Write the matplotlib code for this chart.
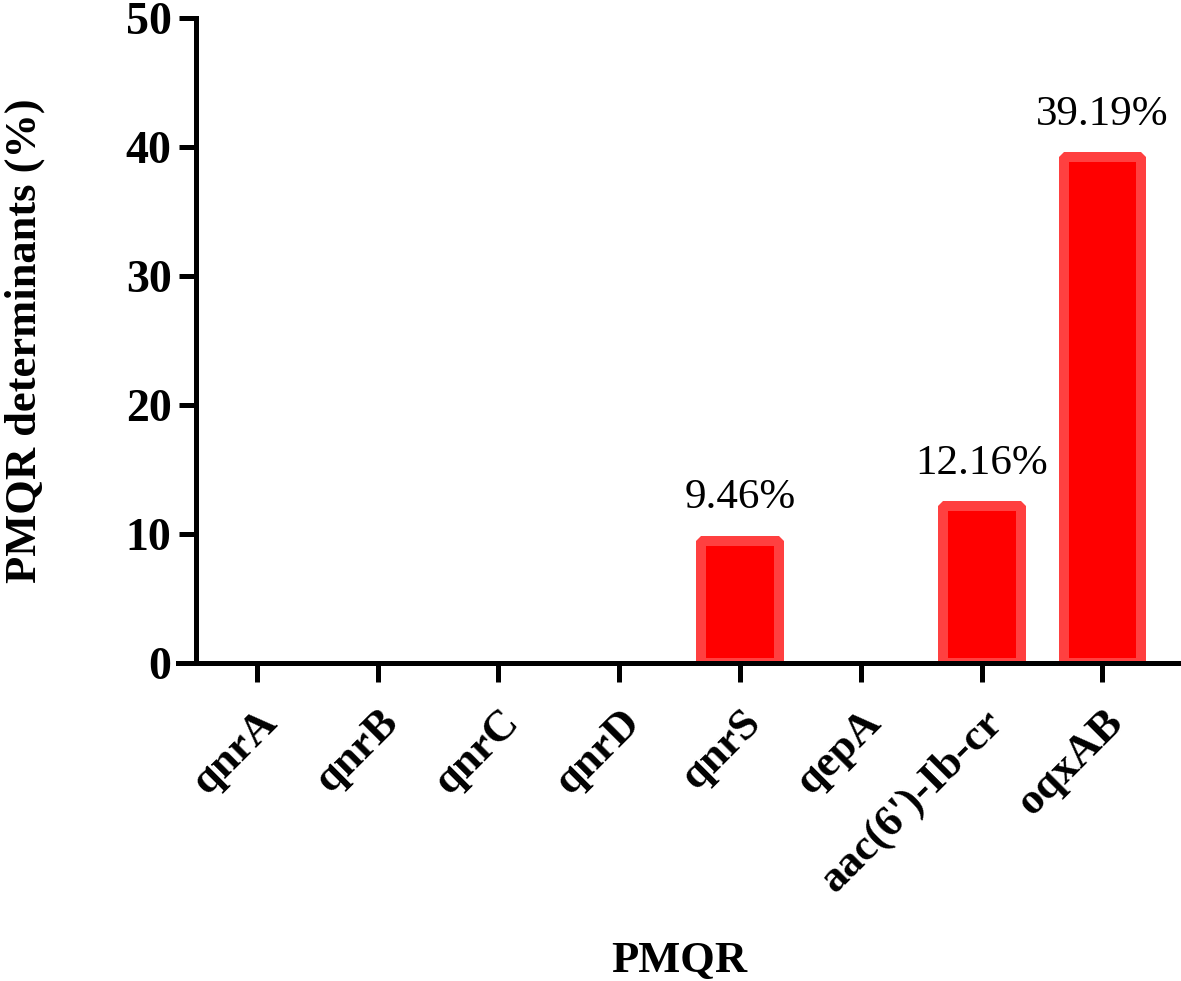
import matplotlib
matplotlib.use("Agg")

import matplotlib.pyplot as plt
import matplotlib.transforms as mtransforms

GENES = ['qnrA', 'qnrB', 'qnrC', 'qnrD', 'qnrS', 'qepA', "aac(6')-Ib-cr", 'oqxAB']
PERCENT = [0, 0, 0, 0, 9.46, 0, 12.16, 39.19]
LABELS = ['', '', '', '', '9.46%', '', '12.16%', '39.19%']
Y_TICKS = [0, 10, 20, 30, 40, 50]

FILL = '#ff0000'
EDGE = '#ff4040'

plt.rcParams['font.family'] = ['Liberation Serif', 'DejaVu Serif']
plt.rcParams['font.weight'] = 'bold'

fig = plt.figure(figsize=(11.81, 9.81), dpi=100)
ax = fig.add_axes([0.151, 0.324, 0.849, 0.658])

x = list(range(len(GENES)))
# empty bars get no outline
widths = [7.2 if v > 0 else 0 for v in PERCENT]
ax.bar(x, PERCENT, width=0.645, color=FILL, edgecolor=EDGE, linewidth=widths,
       joinstyle='bevel', zorder=2)

for xi, val, lab in zip(x, PERCENT, LABELS):
    if lab:
        ax.annotate(lab, (xi, val), xytext=(0, 17), textcoords='offset points',
                    ha='center', va='bottom', fontsize=31, fontweight='normal')

ax.set_xlim(-0.65, 7.65)
ax.set_ylim(0, 50)
ax.set_yticks(Y_TICKS)
ax.set_xticks(x)
ax.set_xticklabels(GENES, rotation=45, ha='right', va='top',
                   rotation_mode='anchor', fontsize=32, fontweight='bold')
shift = mtransforms.ScaledTranslation(-8 / 72, 0, fig.dpi_scale_trans)
for t in ax.get_xticklabels():
    t.set_transform(t.get_transform() + shift)

ax.spines['top'].set_visible(False)
ax.spines['right'].set_visible(False)
ax.spines['left'].set_position(('data', -0.5))
for s in ('left', 'bottom'):
    ax.spines[s].set_linewidth(3.6)
    ax.spines[s].set_zorder(3)
ax.tick_params(axis='y', length=12, width=3.6, pad=6, labelsize=33)
ax.tick_params(axis='x', length=14, width=3.6, pad=14)

ax.set_ylabel('PMQR determinants (%)', fontsize=32, fontweight='bold')
ax.yaxis.set_label_coords(-0.133, 0.5)
ax.set_xlabel('PMQR', fontsize=32, fontweight='bold')
ax.xaxis.set_label_coords(0.5, -0.43)

fig.savefig('out.png', dpi=100)
